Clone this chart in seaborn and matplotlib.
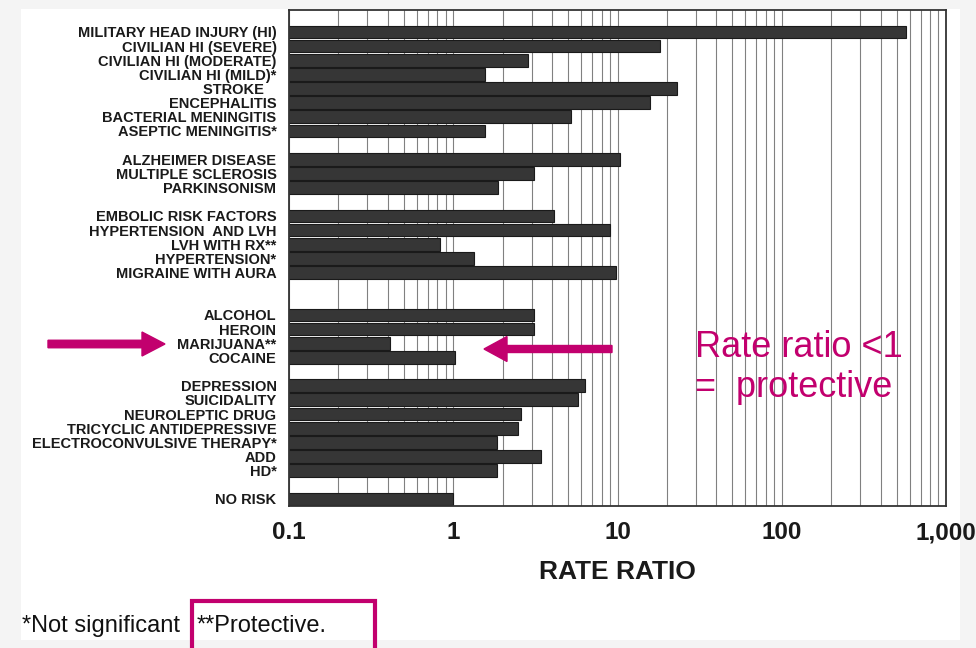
import numpy as np
import pandas as pd
import seaborn as sns
import matplotlib.pyplot as plt
from matplotlib.patches import Rectangle, FancyArrow

# rate ratios, grouped as in the original
head_labels = ["MILITARY HEAD INJURY (HI)", "CIVILIAN HI (SEVERE)", "CIVILIAN HI (MODERATE)",
               "CIVILIAN HI (MILD)*", "STROKE   ", "ENCEPHALITIS", "BACTERIAL MENINGITIS",
               "ASEPTIC MENINGITIS*"]
head_values = [570, 18.2, 2.85, 1.56, 22.9, 15.8, 5.2, 1.56]

neuro_labels = ["ALZHEIMER DISEASE", "MULTIPLE SCLEROSIS", "PARKINSONISM"]
neuro_values = [10.3, 3.1, 1.87]

vascular_labels = ["EMBOLIC RISK FACTORS", "HYPERTENSION  AND LVH", "LVH WITH RX**",
                   "HYPERTENSION*", "MIGRAINE WITH AURA"]
vascular_values = [4.1, 9.0, 0.83, 1.34, 9.8]

drug_labels = ["ALCOHOL", "HEROIN", "MARIJUANA**", "COCAINE"]
drug_values = [3.1, 3.1, 0.41, 1.02]

psych_labels = ["DEPRESSION", "SUICIDALITY", "NEUROLEPTIC DRUG", "TRICYCLIC ANTIDEPRESSIVE",
                "ELECTROCONVULSIVE THERAPY*", "ADD", "HD*"]
psych_values = [6.3, 5.75, 2.6, 2.47, 1.85, 3.4, 1.85]

base_labels = ["NO RISK"]
base_values = [1.0]

xtick_values = [0.1, 1, 10, 100, 1000]
xtick_labels = ["0.1", "1", "10", "100", "1,000"]

groups = [(head_labels, head_values), (neuro_labels, neuro_values),
          (vascular_labels, vascular_values), (drug_labels, drug_values),
          (psych_labels, psych_values), (base_labels, base_values)]
gaps = [0, 1, 1, 2, 1, 1]

rows = []
pos = 0
for (labels, values), gap in zip(groups, gaps):
    pos += gap
    for lab, val in zip(labels, values):
        rows.append({"label": lab, "value": val, "pos": pos})
        pos += 1
df = pd.DataFrame(rows)

pink = "#C2006E"

sns.set_style("white")
plt.rcParams["font.family"] = ["Liberation Sans", "DejaVu Sans"]

fig = plt.figure(figsize=(9.76, 6.48), dpi=100, facecolor="#f4f4f4")
fig.patches.append(Rectangle((21 / 976, 1 - 640 / 648), 939 / 976, 631 / 648,
                             transform=fig.transFigure, facecolor="white",
                             edgecolor="none", zorder=-5))

ax = fig.add_axes([289 / 976, 1 - 506 / 648, 657 / 976, 496 / 648])
ax.set_xscale("log")
sns.barplot(data=df, x="value", y="pos", orient="h", native_scale=True,
            width=0.9, color="#363636", edgecolor="#1a1a1a", linewidth=0.8,
            saturation=1, ax=ax)

ax.set_xlim(0.1, 1000)
ax.set_ylim(33.5, -1.55)
ax.set_xticks(xtick_values, labels=xtick_labels)
ax.xaxis.set_minor_formatter(plt.NullFormatter())
ax.set_yticks(df["pos"], labels=df["label"])
ax.tick_params(axis="both", which="both", length=0)
ax.tick_params(axis="y", pad=9, labelsize=10.5)
ax.tick_params(axis="x", pad=11, labelsize=17.5)
for t in ax.get_xticklabels() + ax.get_yticklabels():
    t.set_fontweight("bold")
    t.set_color("#1a1a1a")

ax.grid(True, which="both", axis="x", color="#808080", linewidth=0.8)
ax.set_axisbelow(True)
for s in ax.spines.values():
    s.set_color("#333333")
    s.set_linewidth(1.3)

ax.set_ylabel("")
ax.set_xlabel("RATE RATIO", fontsize=19, fontweight="bold", color="#1a1a1a", labelpad=11)

# annotations
fig.text(695 / 976, 1 - 357 / 648, "Rate ratio <1", color=pink, fontsize=26, va="baseline")
fig.text(695 / 976, 1 - 397 / 648, "=  protective", color=pink, fontsize=26, va="baseline")

tr = fig.dpi_scale_trans
fig.patches.append(FancyArrow(0.48, 3.04, 1.17, 0, width=0.075, head_width=0.24,
                              head_length=0.23, length_includes_head=True,
                              color=pink, transform=tr))
fig.patches.append(FancyArrow(6.12, 2.99, -1.28, 0, width=0.07, head_width=0.25,
                              head_length=0.23, length_includes_head=True,
                              color=pink, transform=tr))

fig.text(22 / 976, 1 - 632 / 648, "*Not significant", fontsize=17, va="baseline", color="#111111")
fig.text(197 / 976, 1 - 632 / 648, "**Protective.", fontsize=17, va="baseline", color="#111111")
fig.patches.append(Rectangle((1.92, -0.1), 1.83, 0.57, fill=False, edgecolor=pink,
                             linewidth=3, transform=tr))

fig.savefig("out.png", dpi=100, facecolor=fig.get_facecolor())
